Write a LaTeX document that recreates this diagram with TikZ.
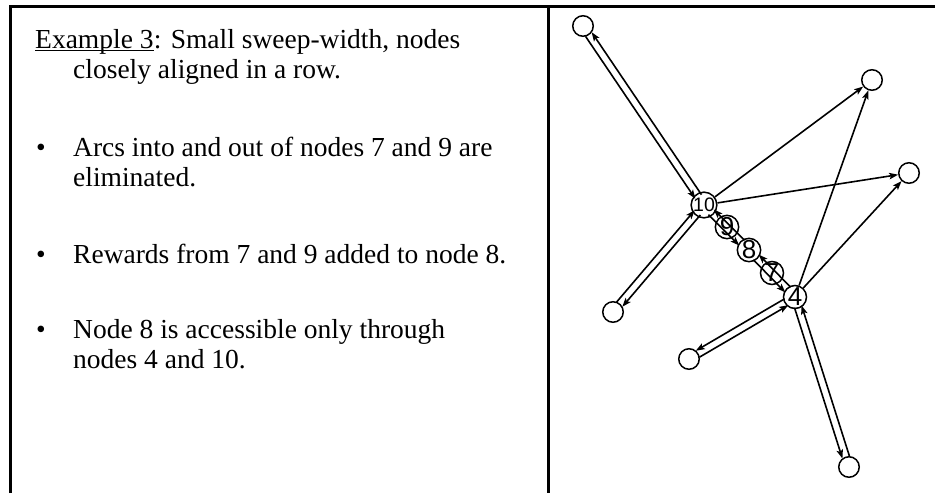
\documentclass[tikz,border=0pt]{standalone}
\usepackage{fontspec}
\setmainfont{Liberation Serif}
\newfontfamily\arialf{Liberation Sans}
\usetikzlibrary{arrows.meta,calc}
\newcommand{\redge}[2]{\draw[edge,shorten <=10pt,shorten >=10pt] ($(#1)!3.7pt!-90:(#2)$) -- ($(#2)!3.7pt!90:(#1)$);}
\newcommand{\ledge}[2]{\draw[edge,shorten <=10pt,shorten >=10pt] ($(#1)!3.7pt!90:(#2)$) -- ($(#2)!3.7pt!-90:(#1)$);}
\begin{document}
\begin{tikzpicture}[x=1pt,y=-1pt,
  vtx/.style={circle,draw,line width=1.5pt,minimum size=20.5pt,inner sep=0pt,font=\arialf\fontsize{26}{26}\selectfont},
  edge/.style={line width=1.6pt,-{Stealth[length=9pt,width=6.5pt,inset=2pt]}},
  txt/.style={anchor=base west,inner sep=0pt,font=\fontsize{27.5}{30}\selectfont},
  frame/.style={line width=3pt}]
\useasboundingbox (0,0) rectangle (935,493);
% frame
\draw[frame] (10,493) -- (10,6) -- (935,6);
\draw[frame] (548,6) -- (548,493);
% text
\node[txt] (ex) at (35,48) {Example 3};
\draw[line width=1.1pt] ([yshift=-2.8pt]ex.base west) -- ([yshift=-2.8pt]ex.base east);
\node[txt] (l1) at (ex.base east) {: Small sweep-width, nodes};
\node[txt] (l2) at (73,78) {closely aligned in a row.};
\node[txt] (d1) at (36,156) {•};
\node[txt] (l3) at (73,156) {Arcs into and out of nodes 7 and 9 are};
\node[txt] (l4) at (73,186) {eliminated.};
\node[txt] (d2) at (36,263) {•};
\node[txt] (l5) at (73,263) {Rewards from 7 and 9 added to node 8.};
\node[txt] (d3) at (36,338) {•};
\node[txt] (l6) at (73,338) {Node 8 is accessible only through};
\node[txt] (l7) at (73,368) {nodes 4 and 10.};
% graph nodes
\node[vtx] (TL) at (583,26) {};
\node[vtx] (TR) at (872,80) {};
\node[vtx] (R) at (909,173) {};
\node[vtx,font=\arialf\fontsize{19.5}{19.5}\selectfont] (n10) at (704,205) {10};
\node[vtx] (n9) at (727,227) {9};
\node[vtx] (n8) at (749,250) {8};
\node[vtx] (n7) at (772,273) {7};
\node[vtx] (n4) at (795,297) {4};
\node[vtx] (L) at (613,312) {};
\node[vtx] (BL) at (689,359) {};
\node[vtx] (B) at (849,467) {};
% edges
\redge{TL}{n10}
\redge{n10}{TL}
\ledge{L}{n10}
\ledge{n10}{L}
\redge{n10}{n8}
\redge{n8}{n10}
\redge{n8}{n4}
\redge{n4}{n8}
\redge{n4}{BL}
\redge{BL}{n4}
\redge{n4}{B}
\redge{B}{n4}
\draw[edge] (n10) -- (TR);
\draw[edge] (n10) -- (R);
\draw[edge] (n4) -- (TR);
\draw[edge] (n4) -- (R);
\end{tikzpicture}
\end{document}
